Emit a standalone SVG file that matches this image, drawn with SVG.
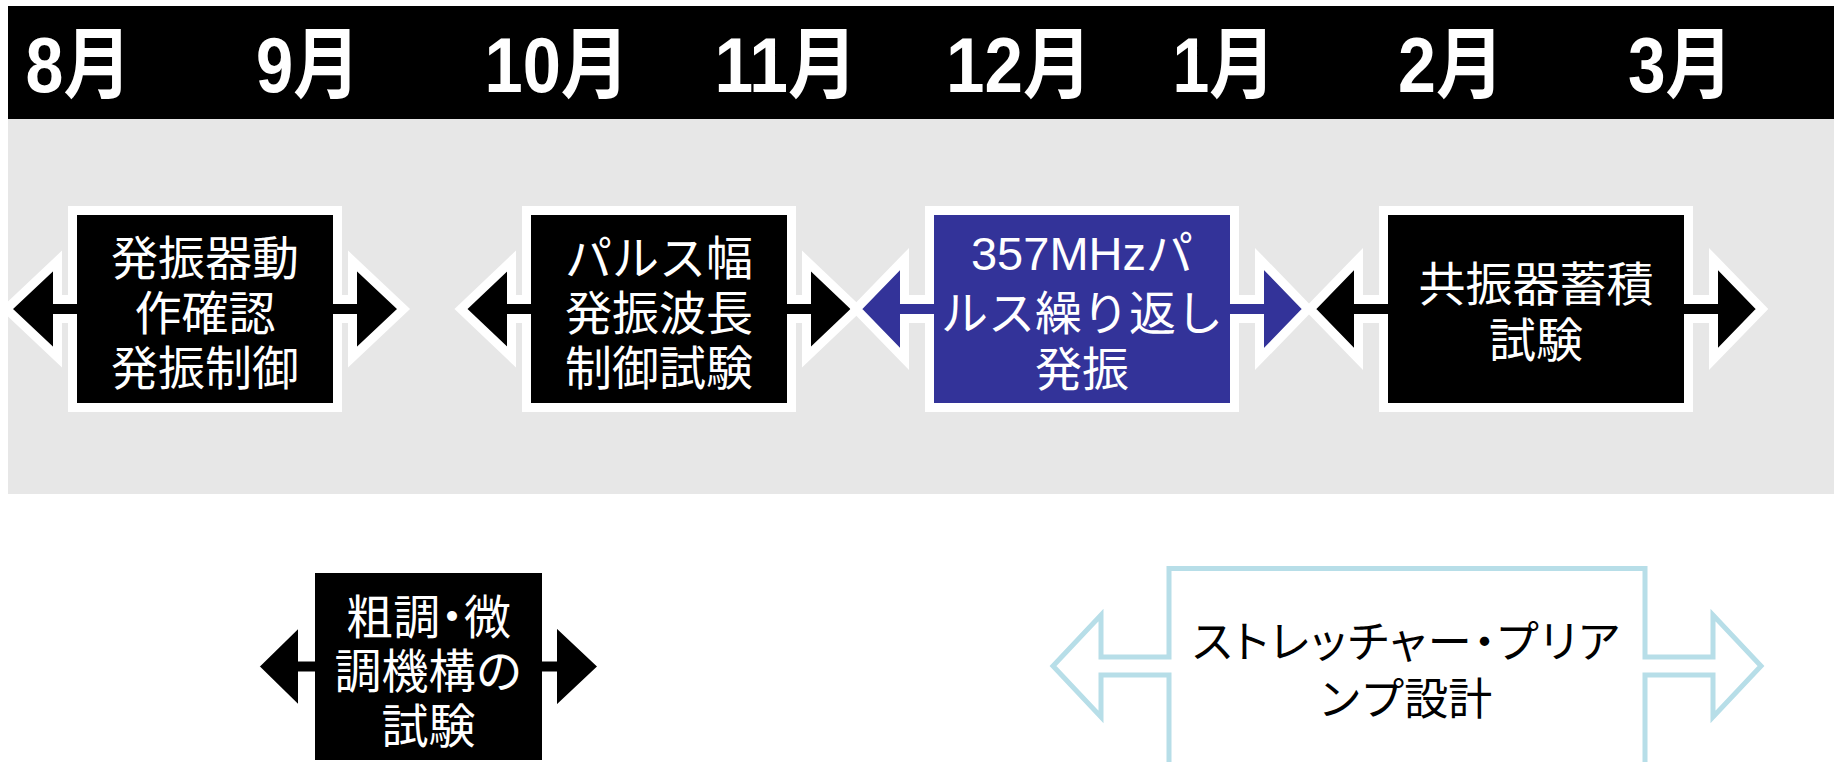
<svg xmlns="http://www.w3.org/2000/svg" width="1834" height="762" viewBox="0 0 1834 762">
<style>
.shape{stroke:#fff;stroke-width:9;stroke-linejoin:miter;stroke-miterlimit:6}
.dark{fill:#000}
.blue{fill:#333399}
.outline{fill:#fff;stroke:#b7dee8;stroke-width:5;stroke-linejoin:miter;stroke-miterlimit:6}
.lbl{font-family:"Liberation Sans","Noto Sans CJK JP",sans-serif;font-size:47px;fill:#fff;text-anchor:middle}
.lbl-dark{font-family:"Liberation Sans","Noto Sans CJK JP",sans-serif;font-size:44px;fill:#000;text-anchor:middle}
.month{font-family:"Liberation Sans","Noto Sans CJK JP",sans-serif;font-weight:bold;font-size:78px;fill:#fff;text-anchor:middle}
.palt{font-feature-settings:"palt" 1}
</style>
<rect x="8" y="119" width="1826" height="375" fill="#e7e7e7"/>
<g id="header">
<rect x="8" y="6" width="1826" height="113" fill="#000"/>
<text class="month" x="78.5" y="92" textLength="106" lengthAdjust="spacingAndGlyphs">8月</text>
<text class="month" x="308" y="92" textLength="104" lengthAdjust="spacingAndGlyphs">9月</text>
<text class="month" x="557" y="92" textLength="145" lengthAdjust="spacingAndGlyphs">10月</text>
<text class="month" x="786" y="92" textLength="143" lengthAdjust="spacingAndGlyphs">11月</text>
<text class="month" x="1019" y="92" textLength="146" lengthAdjust="spacingAndGlyphs">12月</text>
<text class="month" x="1224" y="92" textLength="103" lengthAdjust="spacingAndGlyphs">1月</text>
<text class="month" x="1451" y="92" textLength="106" lengthAdjust="spacingAndGlyphs">2月</text>
<text class="month" x="1680.5" y="92" textLength="105" lengthAdjust="spacingAndGlyphs">3月</text>
</g>
<g id="connectors"/>
<g id="node-oscillator">
<polygon class="shape dark" points="72.5,210.5 337.5,210.5 337.5,299.5 352.5,299.5 352.5,261 403.5,309 352.5,357 352.5,318.5 337.5,318.5 337.5,407.5 72.5,407.5 72.5,318.5 57.5,318.5 57.5,357 6.5,309 57.5,261 57.5,299.5 72.5,299.5"/>
<text class="lbl" x="205" y="275">発振器動</text>
<text class="lbl" x="205" y="330">作確認</text>
<text class="lbl" x="205" y="385">発振制御</text>
</g>
<g id="node-pulse-width">
<polygon class="shape dark" points="526.5,210.5 791.5,210.5 791.5,299.5 806.5,299.5 806.5,261 857,309 806.5,357 806.5,318.5 791.5,318.5 791.5,407.5 526.5,407.5 526.5,318.5 511.5,318.5 511.5,357 461,309 511.5,261 511.5,299.5 526.5,299.5"/>
<text class="lbl" x="659" y="275">パルス幅</text>
<text class="lbl" x="659" y="330">発振波長</text>
<text class="lbl" x="659" y="385">制御試験</text>
</g>
<g id="node-357mhz">
<polygon class="shape blue" points="929.5,210.5 1234.5,210.5 1234.5,299.5 1259.5,299.5 1259.5,259 1308,309 1259.5,359 1259.5,318.5 1234.5,318.5 1234.5,407.5 929.5,407.5 929.5,318.5 904.5,318.5 904.5,359 856,309 904.5,259 904.5,299.5 929.5,299.5"/>
<text class="lbl" x="1082" y="270">357MHzパ</text>
<text class="lbl" x="1082" y="330">ルス繰り返し</text>
<text class="lbl" x="1082" y="386">発振</text>
</g>
<g id="node-resonator">
<polygon class="shape dark" points="1383.5,210.5 1688.5,210.5 1688.5,299.5 1713.5,299.5 1713.5,259 1762,309 1713.5,359 1713.5,318.5 1688.5,318.5 1688.5,407.5 1383.5,407.5 1383.5,318.5 1358.5,318.5 1358.5,359 1310,309 1358.5,259 1358.5,299.5 1383.5,299.5"/>
<text class="lbl" x="1536" y="301">共振器蓄積</text>
<text class="lbl" x="1536" y="357">試験</text>
</g>
<g id="node-tuning">
<polygon class="shape dark" points="310.5,568.5 546.5,568.5 546.5,657 552.5,657 552.5,618.5 603.5,666.5 552.5,714.5 552.5,676 546.5,676 546.5,764.5 310.5,764.5 310.5,676 302.5,676 302.5,714.5 253.5,666.5 302.5,618.5 302.5,657 310.5,657"/>
<text class="lbl palt" x="428.5" y="634" textLength="165" lengthAdjust="spacing">粗調・微</text>
<text class="lbl" x="428.5" y="688">調機構の</text>
<text class="lbl" x="428.5" y="743">試験</text>
</g>
<g id="node-stretcher">
<polygon class="outline" points="1169,568.5 1645,568.5 1645,657 1713,657 1713,615 1761,666 1713,717 1713,675 1645,675 1645,770 1169,770 1169,675 1101,675 1101,717 1053,666 1101,615 1101,657 1169,657"/>
<text class="lbl-dark palt" x="1406" y="658" textLength="427" lengthAdjust="spacing">ストレッチャー・プリア</text>
<text class="lbl-dark" x="1405" y="715">ンプ設計</text>
</g>
</svg>
